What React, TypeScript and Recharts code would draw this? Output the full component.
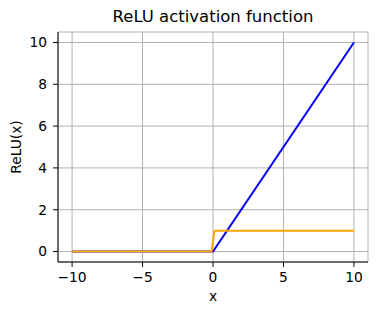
import React from "react"
import { LineChart, Line, XAxis, YAxis, CartesianGrid } from "recharts"

// ReLU(x) sampled at the kinks
const reluX = [-10, 0, 10]
const reluY = [0, 0, 10]

// derivative (step) of ReLU
const stepX = [-10, -0.1, 0.1, 10]
const stepY = [0, 0, 1, 1]

const xTicks = [-10, -5, 0, 5, 10]
const yTicks = [0, 2, 4, 6, 8, 10]

const reluData = reluX.map((x, i) => ({ x, y: reluY[i] }))
const stepData = stepX.map((x, i) => ({ x, y: stepY[i] }))

const font = "'DejaVu Sans', sans-serif"
const fs = 13.8
const minus = (v: number) => String(v).replace("-", "\u2212")

export default function App() {
  return (
    <div style={{ position: "fixed", left: 0, top: 0, width: 377, height: 315, background: "#fff", fontFamily: font }}>
      <div
        style={{
          position: "absolute",
          left: 58,
          width: 310,
          top: 7,
          textAlign: "center",
          fontSize: 16.5,
          color: "#000",
          lineHeight: "20px",
          whiteSpace: "nowrap",
        }}
      >
        ReLU activation function
      </div>
      <LineChart width={377} height={315} margin={{ top: 32, right: 9, bottom: 0, left: 0 }}>
        <CartesianGrid stroke="#b0b0b0" strokeWidth={1} />
        <XAxis
          dataKey="x"
          type="number"
          domain={[-11, 11]}
          ticks={xTicks}
          allowDataOverflow
          height={53}
          stroke="#000"
          tickSize={5}
          tickMargin={5}
          tickFormatter={minus}
          tick={{ fill: "#000", fontSize: fs, fontFamily: font }}
          label={{ value: "x", position: "insideBottom", offset: 14, fill: "#000", fontSize: fs, fontFamily: font }}
        />
        <XAxis xAxisId="top" orientation="top" type="number" domain={[-11, 11]} height={0} tick={false} tickLine={false} stroke="#000" />
        <YAxis
          type="number"
          domain={[-0.5, 10.5]}
          ticks={yTicks}
          allowDataOverflow
          width={58}
          stroke="#000"
          tickSize={5}
          tickMargin={6}
          tick={{ fill: "#000", fontSize: fs, fontFamily: font }}
          label={{ value: "ReLU(x)", angle: -90, position: "insideLeft", offset: 16, fill: "#000", fontSize: fs, fontFamily: font, style: { textAnchor: "middle" } }}
        />
        <YAxis yAxisId="right" orientation="right" type="number" domain={[-0.5, 10.5]} width={0} tick={false} tickLine={false} stroke="#000" />
        <Line data={reluData} dataKey="y" type="linear" stroke="blue" strokeWidth={2} dot={false} isAnimationActive={false} />
        <Line data={stepData} dataKey="y" type="linear" stroke="orange" strokeWidth={2} dot={false} isAnimationActive={false} />
      </LineChart>
    </div>
  )
}
